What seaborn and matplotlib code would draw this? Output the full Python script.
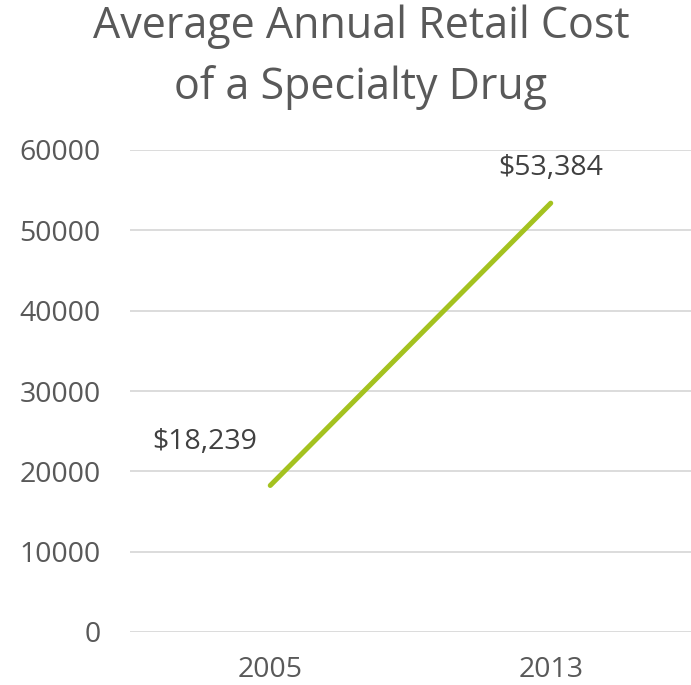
import matplotlib
matplotlib.use("Agg")
import matplotlib.pyplot as plt
import seaborn as sns
import pandas as pd

years = ["2005", "2013"]
costs = [18239, 53384]
cost_labels = ["$18,239", "$53,384"]
y_ticks = [0, 10000, 20000, 30000, 40000, 50000, 60000]

sns.set_theme(style="white")
plt.rcParams["font.family"] = ["Open Sans", "DejaVu Sans"]

TEXT = "#595959"
GRID = "#D9D9D9"
LINE = "#A4C21F"

df = pd.DataFrame({"year": years, "cost": costs})

fig = plt.figure(figsize=(6.91, 6.85), dpi=100)
ax = fig.add_axes([130 / 691, 1 - 632 / 685, 1 - 130 / 691, (632 - 150) / 685])

sns.lineplot(data=df, x="year", y="cost", ax=ax, color=LINE, linewidth=3.6,
             solid_capstyle="round", sort=False)

ax.set_xlim(-0.5, 1.5)
ax.set_ylim(0, 60000)
ax.set_yticks(y_ticks)
ax.set_yticklabels([str(v) for v in y_ticks])
ax.yaxis.grid(True, color=GRID, linewidth=1.3)
ax.set_axisbelow(True)
for s in ax.spines.values():
    s.set_visible(False)
ax.set_xlabel("")
ax.set_ylabel("")
ax.tick_params(axis="y", length=0, pad=21, labelsize=20.5, labelcolor=TEXT)
ax.tick_params(axis="x", length=0, pad=17, labelsize=20.5, labelcolor=TEXT)

# value labels next to each end of the line
offsets = [(-47, 31), (0, 25)]
for i, (lab, off) in enumerate(zip(cost_labels, offsets)):
    ax.annotate(lab, xy=(i, costs[i]), xytext=off, textcoords="offset points",
                ha="center", va="center", fontsize=20.5, color="#404040")

fig.text(361 / 691, 1 - 27 / 685, "Average Annual Retail Cost", ha="center",
         va="center", fontsize=31, color=TEXT)
fig.text(361 / 691, 1 - 88 / 685, "of a Specialty Drug", ha="center",
         va="center", fontsize=31, color=TEXT)

fig.savefig("out.png", dpi=100, facecolor="white")
